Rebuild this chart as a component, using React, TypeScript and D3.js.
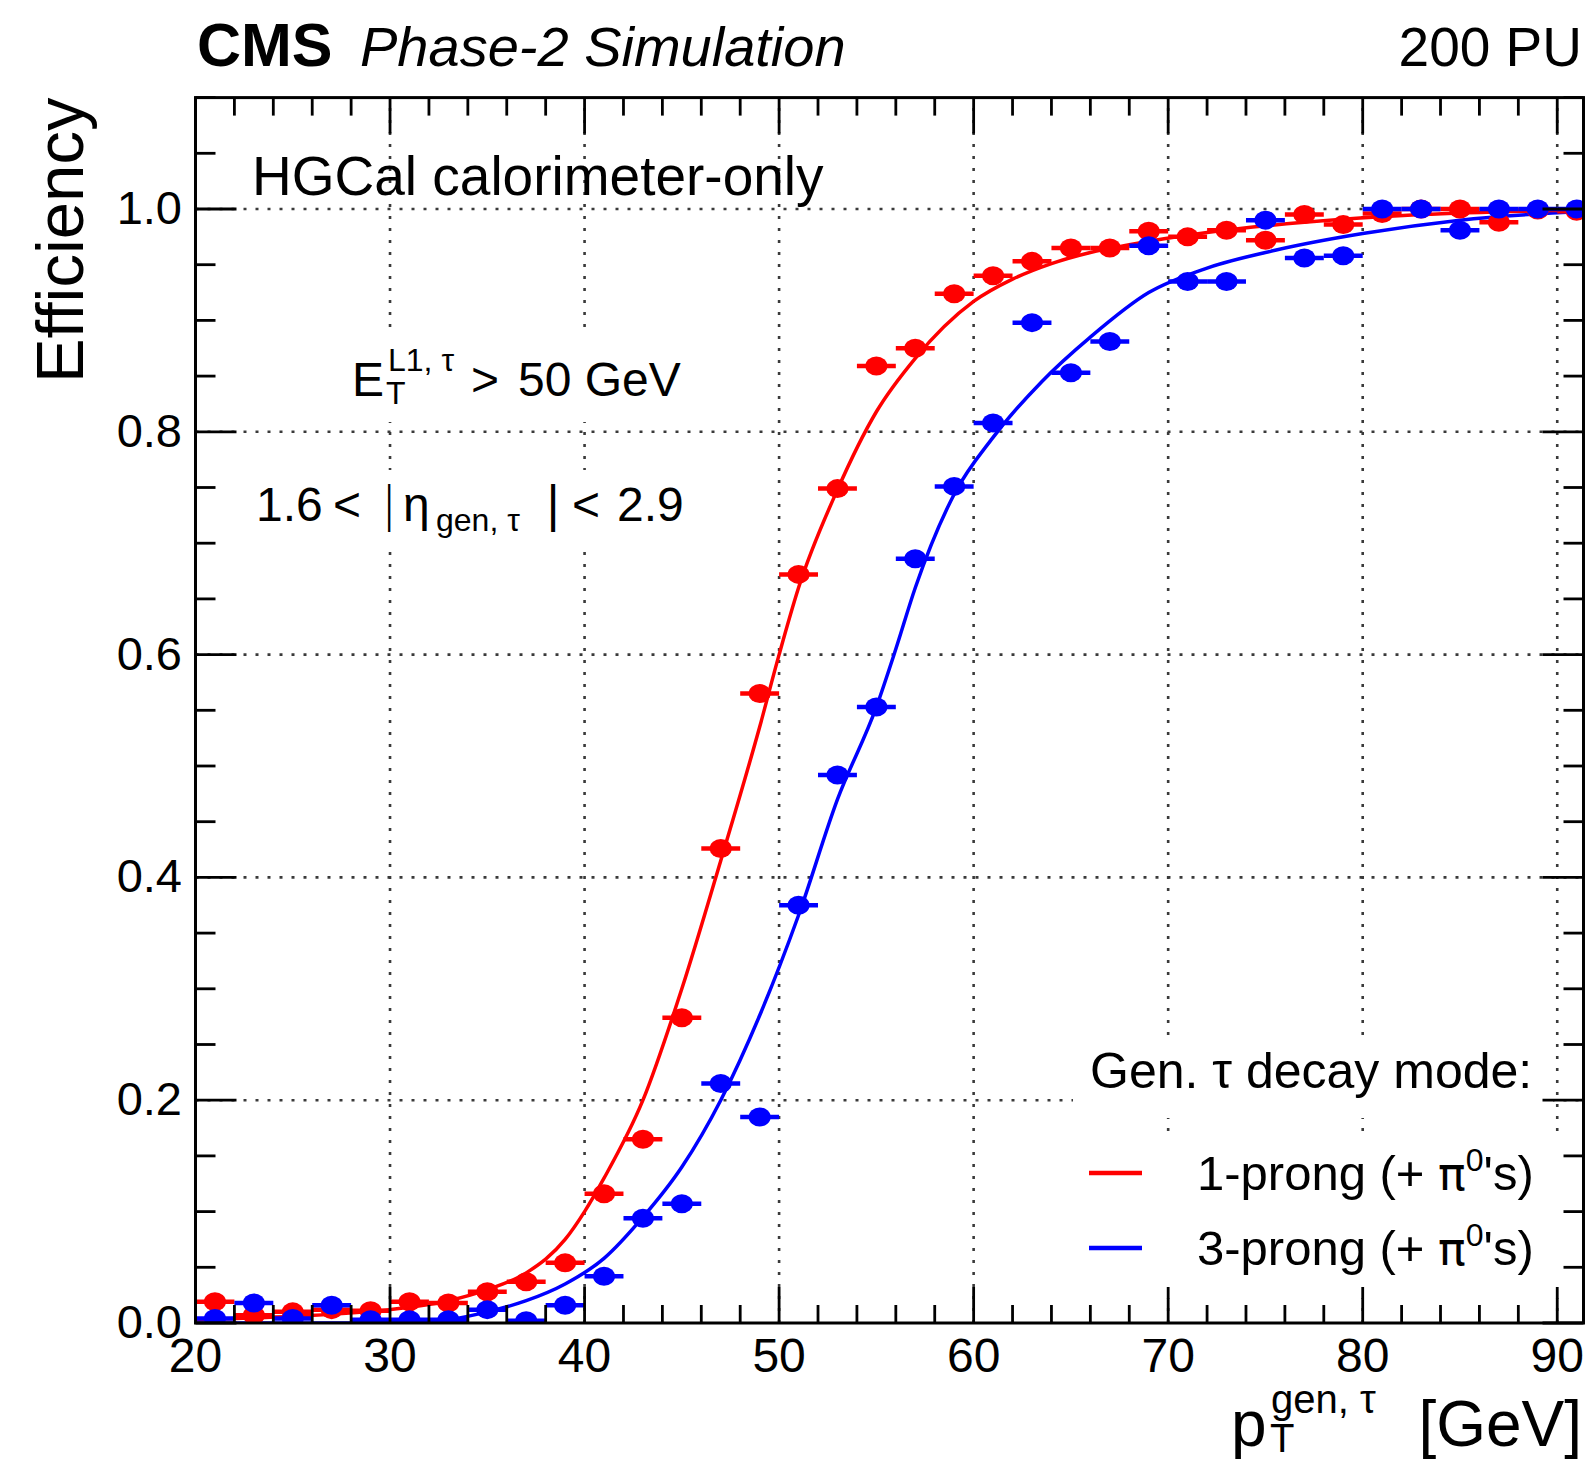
import React from 'react';
import * as d3 from 'd3';

// ---------- data ----------
const binCenters = [21, 23, 25, 27, 29, 31, 33, 35, 37, 39, 41, 43, 45, 47, 49, 51, 53, 55, 57, 59, 61, 63, 65, 67, 69, 71, 73, 75, 77, 79, 81, 83, 85, 87, 89, 91];
const binHalfWidth = 1;
const eff1Prong = [0.019, 0.007, 0.010, 0.012, 0.011, 0.019, 0.018, 0.028, 0.037, 0.054, 0.116, 0.165, 0.274, 0.426, 0.565, 0.672, 0.749, 0.859, 0.875, 0.924, 0.940, 0.953, 0.965, 0.965, 0.980, 0.975, 0.981, 0.972, 0.995, 0.986, 0.996, 1.0, 1.0, 0.988, 0.999, 0.998];
const eff3Prong = [0.004, 0.018, 0.004, 0.016, 0.003, 0.003, 0.003, 0.012, 0.002, 0.016, 0.042, 0.094, 0.107, 0.215, 0.185, 0.375, 0.492, 0.553, 0.686, 0.751, 0.808, 0.898, 0.853, 0.881, 0.967, 0.935, 0.935, 0.990, 0.956, 0.958, 1.0, 1.0, 0.981, 1.0, 1.0, 1.0];

const fit1ProngX = [20, 25, 30, 33, 35, 37, 39, 40, 41, 43, 45, 47, 49, 50, 51, 53, 55, 57, 60, 62, 64, 66, 68, 72, 77, 83, 91.35];
const fit1ProngY = [0.003, 0.006, 0.012, 0.02, 0.03, 0.045, 0.075, 0.1, 0.13, 0.2, 0.3, 0.415, 0.535, 0.6, 0.66, 0.748, 0.818, 0.866, 0.917, 0.937, 0.951, 0.961, 0.968, 0.979, 0.988, 0.995, 0.999];
const fit3ProngX = [20, 30, 33, 35, 37, 39, 41, 43, 45, 47, 49, 51, 53, 55, 56, 57, 59, 61, 63.5, 66, 69, 72, 75.5, 80, 85, 91.35];
const fit3ProngY = [0.0, 0.0, 0.003, 0.01, 0.02, 0.035, 0.058, 0.095, 0.14, 0.2, 0.276, 0.366, 0.47, 0.553, 0.605, 0.66, 0.744, 0.795, 0.845, 0.885, 0.925, 0.947, 0.963, 0.978, 0.99, 0.998];

const xMajorTicks = [20, 30, 40, 50, 60, 70, 80, 90];
const xTickLabels = ['20', '30', '40', '50', '60', '70', '80', '90'];
const yMajorTicks = [0, 0.2, 0.4, 0.6, 0.8, 1.0];
const yTickLabels = ['0.0', '0.2', '0.4', '0.6', '0.8', '1.0'];

const seriesNames = ['1-prong (+ ', '3-prong (+ '];
const seriesColors = ['#ff0000', '#0000ff'];

// ---------- layout ----------
const W = 1593;
const H = 1461;
const L = 195.5, R = 1583.5, B = 1323, T = 97.6;
const FONT = "'Liberation Sans', Arial, Helvetica, sans-serif";

export default function App() {
  const x = d3.scaleLinear().domain([20, 91.35]).range([L, R]);
  const y = d3.scaleLinear().domain([0, 1.1]).range([B, T]);

  const xMinor = d3.range(20, 91.36, 2);
  const yMinor = d3.range(0, 1.1001, 0.05);

  const line = d3
    .line<[number, number]>()
    .x((d) => x(d[0]))
    .y((d) => y(d[1]))
    .curve(d3.curveMonotoneX);

  const fits = [
    d3.zip(fit1ProngX, fit1ProngY) as [number, number][],
    d3.zip(fit3ProngX, fit3ProngY) as [number, number][],
  ];
  const effs = [eff1Prong, eff3Prong];

  const majXLen = 36, minXLen = 18, majYLen = 41, minYLen = 20;

  return (
    <div style={{ position: 'absolute', left: 0, top: 0 }}>
      <svg width={W} height={H} style={{ display: 'block', background: '#fff' }} fontFamily={FONT}>
        <defs>
          <clipPath id="frame">
            <rect x={L} y={T} width={R - L} height={B - T} />
          </clipPath>
        </defs>
        <rect x={0} y={0} width={W} height={H} fill="#fff" />

        {/* grid */}
        <g stroke="#3a3a3a" strokeWidth={2.6} strokeDasharray="3 9">
          {xMajorTicks.slice(1).map((v) => (
            <line key={'gx' + v} x1={x(v)} x2={x(v)} y1={B} y2={T} />
          ))}
          {yMajorTicks.slice(1).map((v) => (
            <line key={'gy' + v} x1={L} x2={R} y1={y(v)} y2={y(v)} />
          ))}
        </g>

        {/* white boxes behind text */}
        <rect x={340} y={328} width={360} height={94} fill="#fff" />
        <rect x={245} y={470} width={460} height={78} fill="#fff" />
        <rect x={1073} y={1035} width={480} height={83} fill="#fff" />
        <rect x={1073} y={1135} width={487} height={163} fill="#fff" />

        {/* texts inside */}
        <text x={252} y={195} fontSize={55} fill="#000">HGCal calorimeter-only</text>

        <text x={352} y={396} fontSize={48}>E</text>
        <text x={388} y={371} fontSize={32}>L1, τ</text>
        <text x={386} y={404} fontSize={32}>T</text>
        <text x={471} y={396} fontSize={48}>&gt;</text>
        <text x={518} y={396} fontSize={48}>50 GeV</text>

        <text x={256} y={521} fontSize={48}>1.6</text>
        <text x={333} y={521} fontSize={48}>&lt;</text>
        <text x={381} y={521} fontSize={48} fontFamily="'DejaVu Sans', sans-serif" fontWeight={300}>|</text>
        <text x={403} y={521} fontSize={48}>η</text>
        <text x={436} y={531} fontSize={32}>gen, τ</text>
        <text x={545} y={521} fontSize={48} fontFamily="'DejaVu Sans', sans-serif">|</text>
        <text x={572} y={521} fontSize={48}>&lt;</text>
        <text x={617} y={521} fontSize={48}>2.9</text>

        {/* data */}
        <g clipPath="url(#frame)">
          {fits.map((f, i) => (
            <path key={'fit' + i} d={line(f) || ''} fill="none" stroke={seriesColors[i]} strokeWidth={3.5} />
          ))}
          {effs.map((eff, i) => (
            <g key={'s' + i} fill={seriesColors[i]} stroke={seriesColors[i]}>
              {binCenters.map((c, j) => (
                <g key={j}>
                  <line x1={x(c - binHalfWidth)} x2={x(c + binHalfWidth)} y1={y(eff[j])} y2={y(eff[j])} strokeWidth={4.5} />
                  <ellipse cx={x(c)} cy={y(eff[j])} rx={11} ry={9.5} stroke="none" />
                </g>
              ))}
            </g>
          ))}
        </g>

        {/* legend */}
        <text x={1090} y={1088} fontSize={50}>Gen. τ decay mode:</text>
        {seriesNames.map((n, i) => (
          <g key={'lg' + i}>
            <line x1={1089} x2={1142} y1={1173 + i * 75} y2={1173 + i * 75} stroke={seriesColors[i]} strokeWidth={4.5} />
            <text x={1197} y={1190 + i * 75} fontSize={49}>
              {n}
              <tspan fontFamily="'DejaVu Sans', sans-serif" fontSize={46}>π</tspan>
              <tspan dy={-19} fontSize={32}>0</tspan>
              <tspan dy={19}>'s)</tspan>
            </text>
          </g>
        ))}

        {/* ticks */}
        <g stroke="#000" strokeWidth={2.8}>
          {xMinor.map((v) => {
            const maj = xMajorTicks.includes(Math.round(v));
            const len = maj ? majXLen : minXLen;
            return (
              <g key={'tx' + v}>
                <line x1={x(v)} x2={x(v)} y1={B} y2={B - len} />
                <line x1={x(v)} x2={x(v)} y1={T} y2={T + len} />
              </g>
            );
          })}
          {yMinor.map((v) => {
            const maj = yMajorTicks.some((m) => Math.abs(m - v) < 1e-6);
            const len = maj ? majYLen : minYLen;
            return (
              <g key={'ty' + v.toFixed(2)}>
                <line x1={L} x2={L + len} y1={y(v)} y2={y(v)} />
                <line x1={R} x2={R - len} y1={y(v)} y2={y(v)} />
              </g>
            );
          })}
        </g>
        <rect x={L} y={T} width={R - L} height={B - T} fill="none" stroke="#000" strokeWidth={3} />

        {/* tick labels */}
        {xMajorTicks.map((v, i) => (
          <text key={'xl' + v} x={x(v)} y={1372} fontSize={48} textAnchor="middle">{xTickLabels[i]}</text>
        ))}
        {yMajorTicks.map((v, i) => (
          <text key={'yl' + v} x={182} y={y(v) + 15} fontSize={47} textAnchor="end">{yTickLabels[i]}</text>
        ))}

        {/* axis titles */}
        <text transform={`translate(83, ${T}) rotate(-90)`} fontSize={67} textAnchor="end">Efficiency</text>
        <text x={1231} y={1446} fontSize={64}>p</text>
        <text x={1270} y={1452} fontSize={40}>T</text>
        <text x={1271} y={1413} fontSize={40}>gen, τ</text>
        <text x={1582} y={1446} fontSize={64} textAnchor="end">[GeV]</text>

        {/* header */}
        <text x={197} y={66} fontSize={61} fontWeight="bold">CMS</text>
        <text x={360} y={66} fontSize={56} fontStyle="italic">Phase-2 Simulation</text>
        <text x={1582} y={66} fontSize={55} textAnchor="end">200 PU</text>
      </svg>
    </div>
  );
}
